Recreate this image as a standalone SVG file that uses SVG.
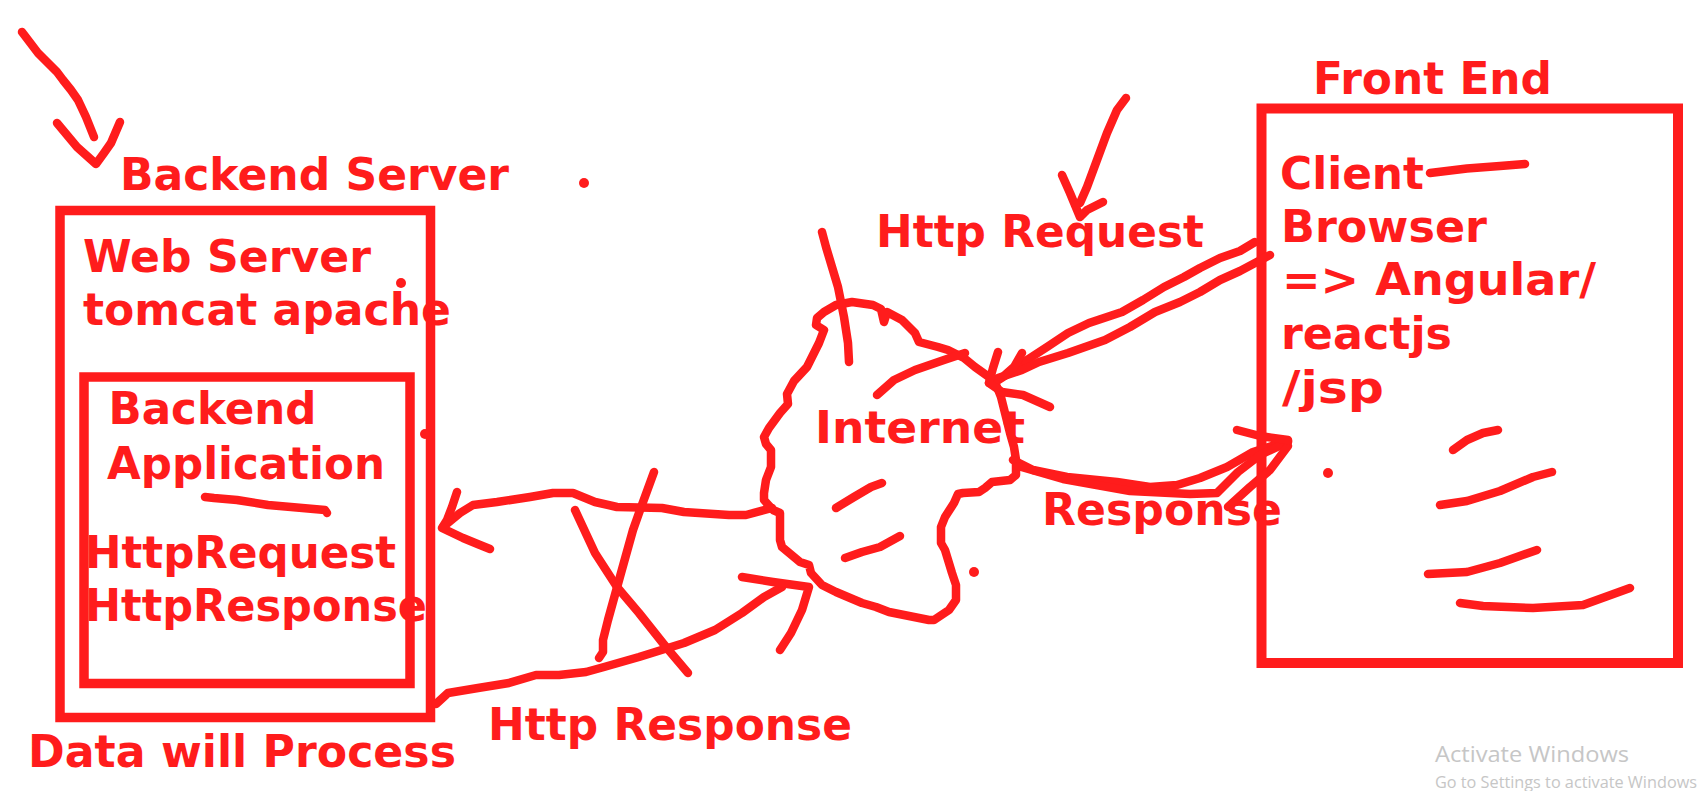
<svg xmlns="http://www.w3.org/2000/svg" width="1701" height="791" viewBox="0 0 1701 791">
<style>
.s{fill:none;stroke:#ff1c1c;stroke-width:8.5;stroke-linecap:round;stroke-linejoin:round}
.b{fill:none;stroke:#ff1c1c;stroke-width:9.5}
.t{font-family:"DejaVu Sans",Verdana,sans-serif;font-weight:bold;font-size:45px;fill:#ff1c1c}
.d{fill:#ff1c1c}
.w{font-family:"Open Sans","Noto Sans",sans-serif;fill:#c6c6c6}
</style>
<rect width="1701" height="791" fill="#ffffff"/>

<g id="backend-server">
  <rect class="b" x="60" y="210.5" width="370.5" height="507"/>
  <text class="t" x="120" y="190" textLength="389" lengthAdjust="spacingAndGlyphs">Backend Server</text>
  <text class="t" x="83" y="272" textLength="288" lengthAdjust="spacingAndGlyphs">Web Server</text>
  <text class="t" x="83" y="325" textLength="368" lengthAdjust="spacingAndGlyphs">tomcat apache</text>
  <text class="t" x="28" y="767" textLength="428" lengthAdjust="spacingAndGlyphs">Data will Process</text>
</g>

<g id="backend-application">
  <rect class="b" x="84" y="377" width="326" height="306.5"/>
  <text class="t" x="108.5" y="424" textLength="208" lengthAdjust="spacingAndGlyphs">Backend</text>
  <text class="t" x="107" y="479" textLength="278" lengthAdjust="spacingAndGlyphs">Application</text>
  <path class="s" d="M205,497 L214,498 L237,500 L268,505 L291,507 L325,510 L327,513"/>
  <text class="t" x="85" y="568" textLength="311" lengthAdjust="spacingAndGlyphs">HttpRequest</text>
  <text class="t" x="85" y="621" textLength="342" lengthAdjust="spacingAndGlyphs">HttpResponse</text>
</g>

<g id="internet">
  <path class="s" d="M824,312 L836,305 L852,302 L873,305 L881,309 L884,322 L887,312 L902,320 L915,333 L919,342 L938,347 L948,350 L964,358 L975,367 L989,377 L997,387 L1001,397 L1005,413 L1010,433 L1014,447 L1016,460 L1016,475 L1010,480 L992,482 L985,488 L979,492 L963,493 L958,494 L954,503 L945,517 L941,527 L941,543 L945,550 L952,573 L956,585 L956,600 L949,610 L934,620 L929,620 L889,612 L876,607 L862,603 L836,592 L822,585 L811,573 L809,565 L800,562 L782,547 L780,540 L780,513 L773,510 L764,500 L764,493 L766,480 L771,467 L771,450 L766,444 L764,437 L769,428 L780,413 L788,404 L787,394 L794,381 L807,367 L819,343 L824,330 L816,325 L817,318 Z"/>
  <path class="s" d="M822,232 L826,247 L832,267 L838,287 L844,317 L848,343 L849,362"/>
  <path class="s" d="M877,395 L894,380 L915,370 L944,360 L965,353"/>
  <path class="s" d="M836,508 L854,497 L871,487 L882,483"/>
  <path class="s" d="M845,558 L862,552 L880,547 L900,536"/>
  <text class="t" x="815" y="443" textLength="210" lengthAdjust="spacingAndGlyphs">Internet</text>
</g>

<g id="front-end">
  <rect class="b" x="1261.5" y="108.5" width="416.5" height="554.5" style="stroke-width:10"/>
  <text class="t" x="1313" y="94" textLength="239" lengthAdjust="spacingAndGlyphs">Front End</text>
  <text class="t" x="1280" y="189" textLength="144" lengthAdjust="spacingAndGlyphs">Client</text>
  <path class="s" d="M1430,173 L1467,168.5 L1500,166 L1525,164"/>
  <text class="t" x="1281" y="241.5" textLength="206" lengthAdjust="spacingAndGlyphs">Browser</text>
  <text class="t" x="1282" y="295" textLength="314" lengthAdjust="spacingAndGlyphs">=&gt; Angular/</text>
  <text class="t" x="1281" y="349" textLength="171" lengthAdjust="spacingAndGlyphs">reactjs</text>
  <text class="t" x="1282" y="403" textLength="102" lengthAdjust="spacingAndGlyphs">/jsp</text>
  <path class="s" d="M1453,450 L1467,440 L1483,433 L1498,430"/>
  <path class="s" d="M1440,505 L1467,501 L1500,491 L1533,477 L1552,472"/>
  <path class="s" d="M1428,574 L1467,572 L1500,563 L1537,550"/>
  <path class="s" d="M1460,603 L1483,606 L1533,608 L1583,605 L1630,588"/>
</g>

<g id="connectors">
  <path class="s" d="M22,32 L38,53 L48,63 L57,72 L63,80 L71,90 L78,100 L86,117 L94,137"/>
  <path class="s" d="M57,123 L77,147 L96,164 L104,153 L111,143 L120,122"/>
  <path class="s" d="M772,508 L746,515 L729,515 L684,512 L662,508 L617,507 L595,502 L573,493 L553,493 L530,497 L497,502 L473,505 L460,513 L443,527"/>
  <path class="s" d="M457,492 L452,507 L447,520 L442,528 L463,538 L480,545 L490,549"/>
  <path class="s" d="M436,704 L448,693 L478,688 L509,683 L536,675 L559,675 L586,672 L604,667 L639,657 L684,643 L715,630 L742,613 L764,597 L782,587"/>
  <path class="s" d="M742,577 L773,582 L809,587 L802,610 L791,633 L780,650"/>
  <path class="s" d="M654,472 L639,513 L633,530 L621,573 L608,620 L603,640 L603,652 L599,658"/>
  <path class="s" d="M575,510 L595,553 L617,587 L639,613 L666,647 L688,673"/>
  <path class="s" d="M1126,98 L1117,110 L1107,133 L1097,160 L1087,187 L1080,203"/>
  <path class="s" d="M1062,175 L1070,193 L1080,217 L1087,210 L1103,202"/>
  <path class="s" d="M1255,242 L1240,251 L1220,258 L1200,268 L1184,277 L1164,287 L1143,300 L1122,312 L1089,323 L1068,333 L1047,347 L1027,360 L1014,370 L997,381"/>
  <path class="s" d="M1270,255 L1240,271 L1220,280 L1200,292 L1180,302 L1155,312 L1130,327 L1105,340 L1068,353 L1039,362 L1022,370 L998,378 L989,383"/>
  <path class="s" d="M998,352 L993,368 L989,383 L1002,392 L1023,395 L1050,407"/>
  <path class="s" d="M1022,353 L1014,367 L1005,375"/>
  <path class="s" d="M1013,460 L1033,470 L1067,477 L1117,482 L1150,487 L1177,485 L1200,478 L1227,467 L1253,452 L1288,441"/>
  <path class="s" d="M1018,466 L1063,479 L1130,491 L1190,494 L1217,493 L1238,472 L1260,455 L1288,442"/>
  <path class="s" d="M1228,507 L1250,487 L1270,470 L1288,446"/>
  <path class="s" d="M1237,430 L1260,436 L1288,440"/>
</g>

<g id="labels">
  <text class="t" x="876" y="247" textLength="328" lengthAdjust="spacingAndGlyphs">Http Request</text>
  <text class="t" x="1042" y="525" textLength="240" lengthAdjust="spacingAndGlyphs">Response</text>
  <text class="t" x="488" y="740" textLength="364" lengthAdjust="spacingAndGlyphs">Http Response</text>
</g>

<g id="dots">
  <circle class="d" cx="584" cy="183" r="5"/>
  <circle class="d" cx="401" cy="283" r="5"/>
  <circle class="d" cx="425" cy="434" r="5"/>
  <circle class="d" cx="974" cy="572" r="5"/>
  <circle class="d" cx="1328" cy="473" r="5"/>
</g>

<g id="watermark">
  <text class="w" x="1435" y="762" font-size="21" textLength="194" lengthAdjust="spacingAndGlyphs">Activate Windows</text>
  <text class="w" x="1435" y="788" font-size="16" textLength="262" lengthAdjust="spacingAndGlyphs">Go to Settings to activate Windows</text>
</g>
</svg>
